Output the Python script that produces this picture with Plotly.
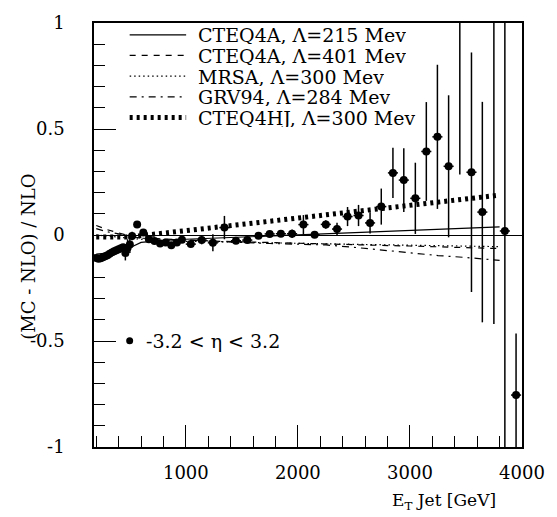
import plotly.graph_objects as go

# ---------------- data ----------------
et = [200, 220, 240, 260, 280, 300, 320, 340, 360, 380, 400, 420, 440,
      460, 480, 500, 520, 565, 620, 670, 720, 770, 820, 870, 920, 965,
      1044, 1141, 1241, 1344, 1447, 1548, 1648, 1748, 1848, 1948,
      2049, 2149, 2249, 2349, 2443, 2541, 2644, 2744, 2848, 2945,
      3048, 3146, 3245, 3345, 3445, 3549, 3646, 3749, 3847, 3947]
ratio = [-0.108, -0.112, -0.110, -0.105, -0.100, -0.095, -0.088, -0.082, -0.077, -0.072, -0.067, -0.062, -0.058,
         -0.085, -0.060, -0.045, -0.005, 0.050, 0.012, -0.020, -0.028, -0.040, -0.035, -0.048, -0.035, -0.022,
         -0.043, -0.024, -0.037, 0.035, -0.027, -0.024, -0.004, 0.005, 0.006, 0.006,
         0.049, 0.001, 0.050, 0.028, 0.087, 0.092, 0.057, 0.134, 0.293, 0.259,
         0.173, 0.394, 0.463, 0.324, 1.200, 0.296, 0.108, 1.150, 0.019, -0.755]
ratio_err = [0.012, 0.012, 0.012, 0.012, 0.012, 0.012, 0.012, 0.012, 0.012, 0.012, 0.012, 0.012, 0.012,
             0.035, 0.040, 0.040, 0.020, 0.010, 0.008, 0.008, 0.008, 0.008, 0.008, 0.008, 0.008, 0.008,
             0.010, 0.020, 0.040, 0.055, 0.010, 0.010, 0.010, 0.010, 0.015, 0.020,
             0.045, 0.010, 0.020, 0.030, 0.045, 0.050, 0.050, 0.085, 0.118, 0.150,
             0.168, 0.233, 0.340, 0.335, 0.915, 0.565, 0.520, 1.570, 1.400, 0.290]
et_err = [10] * 13 + [10] * 4 + [25] * 9 + [45] * 30

curve_et = [200, 300, 400, 500, 600, 800, 1000, 1250, 1500, 1750, 2000, 2250, 2500, 2750, 3000, 3250, 3500, 3800]
cteq4a_215 = [-0.090, -0.085, -0.075, -0.060, -0.035, -0.025, -0.020, -0.015, -0.010, -0.005, 0.000,
              0.006, 0.012, 0.018, 0.023, 0.028, 0.033, 0.038]
cteq4a_401 = [0.045, 0.025, 0.010, -0.005, -0.015, -0.020, -0.025, -0.029, -0.032, -0.036, -0.040,
              -0.043, -0.046, -0.049, -0.052, -0.055, -0.058, -0.064]
mrsa_300 = [0.000, -0.005, -0.010, -0.015, -0.020, -0.025, -0.030, -0.032, -0.035, -0.037, -0.040,
            -0.042, -0.044, -0.046, -0.048, -0.050, -0.052, -0.055]
grv94_284 = [0.030, 0.015, 0.005, -0.005, -0.015, -0.020, -0.025, -0.030, -0.035, -0.040, -0.042,
             -0.047, -0.058, -0.072, -0.085, -0.097, -0.106, -0.120]
cteq4hj_300 = [-0.010, -0.010, -0.010, -0.010, -0.003, 0.010, 0.022, 0.036, 0.050, 0.065, 0.080,
               0.095, 0.110, 0.125, 0.140, 0.155, 0.170, 0.188]

legend_labels = ["CTEQ4A, Λ=215 Mev", "CTEQ4A, Λ=401 Mev", "MRSA, Λ=300 Mev",
                 "GRV94, Λ=284 Mev", "CTEQ4HJ, Λ=300 Mev"]
x_ticks = [1000, 2000, 3000, 4000]
y_ticks = [-1, -0.5, 0, 0.5, 1]
y_ticktext = ["-1", "-0.5", "0", "0.5", "1"]
data_label = "-3.2 < η < 3.2"

# ---------------- styles ----------------
FONT = "DejaVu Serif"
styles = [
    dict(width=1.2, dash="solid"),
    dict(width=1.2, dash="6px,6px"),
    dict(width=1.2, dash="1.5px,3px"),
    dict(width=1.2, dash="7px,5px,2px,5px"),
    dict(width=5, dash="3px,4px"),
]
curves = [cteq4a_215, cteq4a_401, mrsa_300, grv94_284, cteq4hj_300]

W, H = 557, 517
L, R, T, B = 94, 31, 16, 70
PW, PH = W - L - R, H - T - B


def px(x):
    return (x - L) / PW


def py(y):
    return (H - B - y) / PH


fig = go.Figure()

for yy, st, name in zip(curves, styles, legend_labels):
    fig.add_trace(go.Scatter(x=curve_et, y=yy, mode="lines", name=name,
                             line=dict(color="black", width=st["width"], dash=st["dash"]),
                             showlegend=False))

fig.add_trace(go.Scatter(
    x=et, y=ratio, mode="markers", name=data_label, showlegend=False,
    marker=dict(color="black", size=8, symbol="circle"),
    error_y=dict(type="data", array=ratio_err, color="black", thickness=1.5, width=0),
    error_x=dict(type="data", array=et_err, color="black", thickness=1.5, width=0),
))

rows = [28, 49, 70, 91, 112]
shapes = []
annotations = []
for r, st, lab in zip(rows, styles, legend_labels):
    shapes.append(dict(type="line", xref="paper", yref="paper",
                       x0=px(130), x1=px(187), y0=py(r), y1=py(r),
                       line=dict(color="black", width=st["width"], dash=st["dash"])))
    annotations.append(dict(xref="paper", yref="paper", x=px(197), y=py(r),
                            text=lab, showarrow=False, xanchor="left", yanchor="middle",
                            height=19, valign="middle",
                            font=dict(family=FONT, size=19, color="black")))

shapes.append(dict(type="circle", xref="paper", yref="paper", xsizemode="pixel", ysizemode="pixel",
                   xanchor=px(130), yanchor=py(339), x0=-3.5, x1=3.5, y0=-3.5, y1=3.5,
                   fillcolor="black", line=dict(color="black", width=0)))
annotations.append(dict(xref="paper", yref="paper", x=px(144), y=py(339), text=data_label,
                        showarrow=False, xanchor="left", yanchor="middle",
                        font=dict(family=FONT, size=19, color="black")))

annotations.append(dict(xref="paper", yref="paper", x=px(28), y=py(254),
                        text="(MC - NLO) / NLO", textangle=-90, showarrow=False,
                        xanchor="center", yanchor="middle",
                        font=dict(family=FONT, size=18, color="black")))
annotations.append(dict(xref="paper", yref="paper", x=px(502), y=py(502),
                        text="E<sub>T</sub> Jet [GeV]", showarrow=False,
                        xanchor="right", yanchor="middle",
                        font=dict(family=FONT, size=17, color="black")))

fig.update_layout(
    width=W, height=H, margin=dict(l=L, r=R, t=T, b=B, pad=0),
    paper_bgcolor="white", plot_bgcolor="white",
    font=dict(family=FONT, size=18, color="black"),
    shapes=shapes, annotations=annotations, showlegend=False,
)
fig.update_xaxes(range=[180, 4000], tickvals=x_ticks, ticktext=[str(v) for v in x_ticks],
                 ticks="inside", ticklen=22, tickwidth=1, tickcolor="black",
                 minor=dict(ticks="inside", ticklen=11, tick0=0, dtick=200, tickcolor="black", tickwidth=1),
                 showline=True, linecolor="black", linewidth=1.5, mirror=True,
                 showgrid=False, zeroline=False, ticklabelstandoff=9,
                 tickfont=dict(family=FONT, size=18, color="black"))
fig.update_yaxes(range=[-1, 1], tickvals=y_ticks, ticktext=y_ticktext,
                 ticks="inside", ticklen=22, tickwidth=1, tickcolor="black",
                 minor=dict(ticks="inside", ticklen=11, tick0=0, dtick=0.1, tickcolor="black", tickwidth=1),
                 showline=True, linecolor="black", linewidth=1.5, mirror=True,
                 showgrid=False, zeroline=True, zerolinecolor="black", zerolinewidth=1.2,
                 ticklabelstandoff=24,
                 tickfont=dict(family=FONT, size=18, color="black"))

fig.write_html("out.html")
